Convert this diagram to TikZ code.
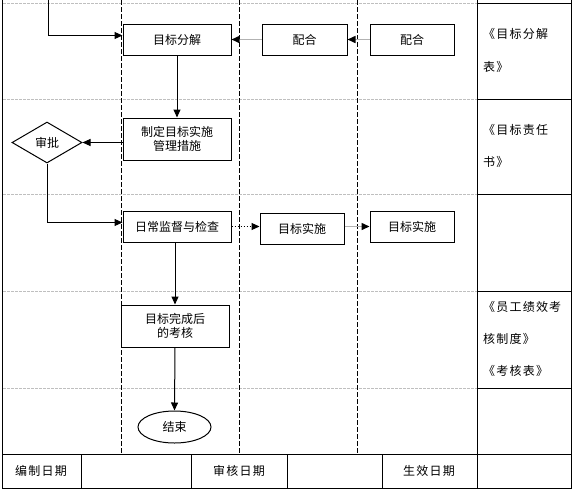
\documentclass[tikz,border=0pt]{standalone}
\usepackage{fontspec}
\setmainfont{Noto Sans CJK SC}
\usetikzlibrary{arrows.meta,shapes.geometric,calc}
\begin{document}
\begin{tikzpicture}[x=1pt,y=-1pt,
  every node/.style={font=\fontsize{12}{14}\selectfont, inner sep=0pt},
  box/.style={draw, line width=1pt, align=center},
  arr/.style={line width=1pt, -{Triangle[length=8pt,width=7pt]}},
  garr/.style={line width=1.5pt, draw=black!30, -{Triangle[length=8pt,width=7pt,fill=black,color=black]}},
  lane/.style={draw=black!25, line width=0.8pt, dash pattern=on 3pt off 1pt},
  vdash/.style={line width=1pt, dash pattern=on 5pt off 2pt},
  frame/.style={line width=1pt},
  spaced/.style={font=\fontsize{12}{14}\selectfont\addfontfeature{LetterSpace=10}},
  doc/.style={anchor=west, spaced}]
\useasboundingbox (0,0) rectangle (573,491);
% lane separators
\foreach \yy in {3,99,194,291,388} \draw[lane] (3,\yy) -- (477,\yy);
% vertical dashed lanes
\foreach \xx in {121,239,357} \draw[vdash] (\xx,0) -- (\xx,454);
% frame
\draw[frame] (2,0) -- (2,488) -- (571,488) -- (571,0);
\draw[frame] (477,0) -- (477,488);
\foreach \yy in {3,99,194,291,388} \draw[frame] (477,\yy) -- (571,\yy);
\draw[frame] (2,454) -- (571,454);
\foreach \xx in {81,191,287,382} \draw[frame] (\xx,454) -- (\xx,488);
% bottom row texts
\node[spaced] (bz) at (41,471) {编制日期};
\node[spaced] (sh) at (239,471) {审核日期};
\node[spaced] (sx) at (429,471) {生效日期};
% right column docs
\node[doc] (d1a) at (483,34) {《目标分解};
\node[doc] (d1b) at (483,67) {表》};
\node[doc] (d2a) at (483,130) {《目标责任};
\node[doc] (d2b) at (483,162) {书》};
\node[doc] (d3a) at (483,307) {《员工绩效考};
\node[doc] (d3b) at (483,339) {核制度》};
\node[doc] (d3c) at (483,371) {《考核表》};
% process nodes
\node[box, minimum width=108pt, minimum height=31pt] (mb) at (177,39.5) {目标分解};
\node[box, minimum width=85pt, minimum height=31pt] (ph1) at (304.5,39.5) {配合};
\node[box, minimum width=84pt, minimum height=31pt] (ph2) at (412,39.5) {配合};
\node[box, minimum width=108pt, minimum height=42pt] (zd) at (177,139) {制定目标实施\\管理措施};
\node[draw, line width=1pt, diamond, minimum width=70pt, minimum height=41pt] (sp) at (47,142.5) {审批};
\node[box, minimum width=108pt, minimum height=31pt] (rc) at (177,226.5) {日常监督与检查};
\node[box, minimum width=84pt, minimum height=31pt] (ss1) at (302,228.5) {目标实施};
\node[box, minimum width=84pt, minimum height=31pt] (ss2) at (412,226.5) {目标实施};
\node[box, minimum width=108pt, minimum height=42pt] (kh) at (175,326) {目标完成后\\的考核};
\node[draw, line width=1pt, ellipse, minimum width=73pt, minimum height=32pt] (end) at (174.5,427) {结束};
% connectors
\coordinate (top) at (48,0);
\draw[arr] (top) |- ([yshift=4pt]mb.west);
\draw[garr] (ph1.west) -- (mb.east);
\draw[garr] (ph2.west) -- (ph1.east);
\draw[arr] (mb.south) -- (zd.north);
\draw[arr] (zd.west |- sp.east) -- (sp.east);
\draw[arr] (sp.south) |- ([yshift=4pt]rc.west);
\draw[line width=1pt, dotted, -{Triangle[length=8pt,width=7pt]}] (rc.east) -- (ss1.west |- rc.east);
\draw[garr] (ss1.east |- ss2.west) -- (ss2.west);
\draw[arr] (rc.south -| kh.north) -- (kh.north);
\draw[arr] (kh.south) -- (end.north);
\end{tikzpicture}
\end{document}
